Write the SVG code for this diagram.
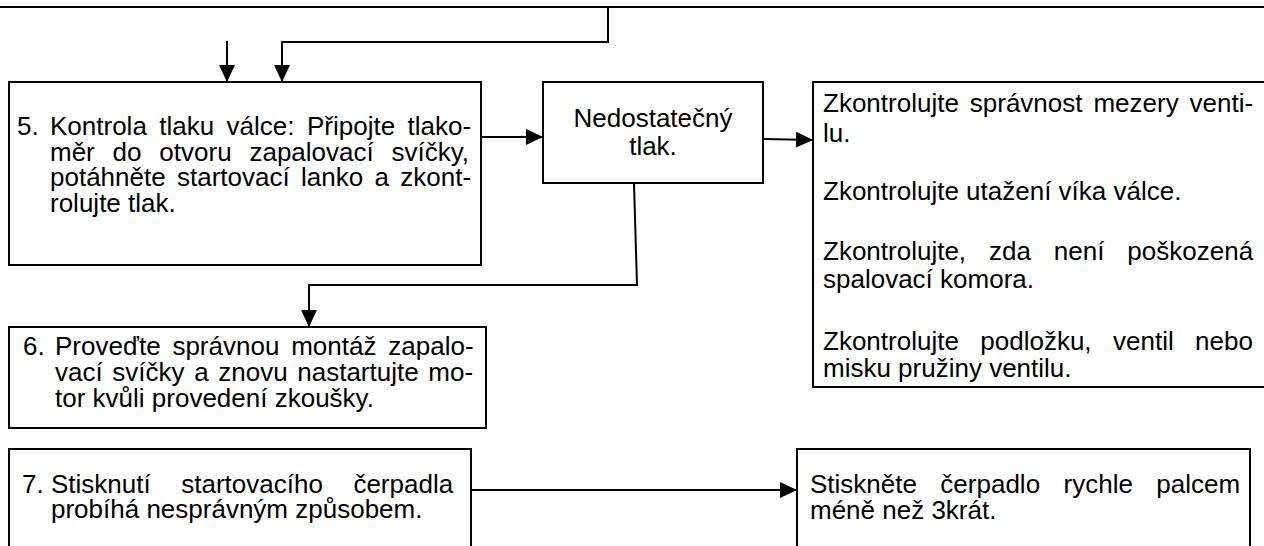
<svg xmlns="http://www.w3.org/2000/svg" width="1264" height="546" viewBox="0 0 1264 546">
<style>
.box{fill:#fff;stroke:#000;stroke-width:2}
.t{font-family:"Liberation Sans",Arial,sans-serif;font-size:26px;fill:#000}
.c{text-anchor:middle}
.ln{fill:none;stroke:#000;stroke-width:2}
</style>
<defs>
<marker id="ah" markerUnits="userSpaceOnUse" markerWidth="17" markerHeight="16" refX="17" refY="8" orient="auto">
<path d="M0,0 L17,8 L0,16 z" fill="#000"/>
</marker>
</defs>
<rect width="1264" height="546" fill="#fff"/>
<g id="connectors">
<line class="ln" x1="0" y1="7" x2="1264" y2="7" stroke-width="2.5"/>
<path class="ln" d="M608,7 V42 H282 V82" marker-end="url(#ah)"/>
<line class="ln" x1="227" y1="41" x2="227" y2="82" marker-end="url(#ah)"/>
<line class="ln" x1="482" y1="137" x2="543" y2="137" marker-end="url(#ah)"/>
<line class="ln" x1="764" y1="139" x2="813" y2="140" marker-end="url(#ah)"/>
<path class="ln" d="M634,184 L637,285 H309 V327" marker-end="url(#ah)"/>
<line class="ln" x1="472" y1="490" x2="797" y2="490" marker-end="url(#ah)"/>
</g>
<g id="node5">
<rect class="box" x="9" y="82" width="472" height="183"/>
<text class="t"><tspan x="17" y="135">5.</tspan><tspan x="50" y="135" word-spacing="5.2">Kontrola tlaku válce: Připojte tlako-</tspan><tspan x="50" y="160.5" word-spacing="10.6">měr do otvoru zapalovací svíčky,</tspan><tspan x="50" y="186" word-spacing="4.1">potáhněte startovací lanko a zkont-</tspan><tspan x="50" y="211.5">rolujte tlak.</tspan></text>
</g>
<g id="node-nedostatecny">
<rect class="box" x="543" y="82" width="220" height="101"/>
<text class="t c"><tspan x="653" y="127">Nedostatečný</tspan><tspan x="653" y="155">tlak.</tspan></text>
</g>
<g id="node-checks">
<rect class="box" x="813" y="82" width="460" height="305"/>
<text class="t"><tspan x="823" y="112" word-spacing="3.7">Zkontrolujte správnost mezery venti-</tspan><tspan x="823" y="142">lu.</tspan></text>
<text class="t" x="823" y="200">Zkontrolujte utažení víka válce.</text>
<text class="t"><tspan x="823" y="260" word-spacing="15.7">Zkontrolujte, zda není poškozená</tspan><tspan x="823" y="288">spalovací komora.</tspan></text>
<text class="t"><tspan x="823" y="350" word-spacing="14.2">Zkontrolujte podložku, ventil nebo</tspan><tspan x="823" y="377">misku pružiny ventilu.</tspan></text>
</g>
<g id="node6">
<rect class="box" x="9" y="327" width="477" height="101"/>
<text class="t"><tspan x="23" y="355">6.</tspan><tspan x="55" y="355" word-spacing="4.6">Proveďte správnou montáž zapalo-</tspan><tspan x="55" y="381" word-spacing="2.4">vací svíčky a znovu nastartujte mo-</tspan><tspan x="55" y="407">tor kvůli provedení zkoušky.</tspan></text>
</g>
<g id="node7">
<rect class="box" x="9" y="449" width="462" height="110"/>
<text class="t"><tspan x="22" y="493">7.</tspan><tspan x="51" y="493" word-spacing="23.3">Stisknutí startovacího čerpadla</tspan><tspan x="51" y="518">probíhá nesprávným způsobem.</tspan></text>
</g>
<g id="node-pump">
<rect class="box" x="797" y="449" width="453" height="110"/>
<text class="t"><tspan x="810" y="493" word-spacing="16.2">Stiskněte čerpadlo rychle palcem</tspan><tspan x="810" y="519">méně než 3krát.</tspan></text>
</g>
</svg>
